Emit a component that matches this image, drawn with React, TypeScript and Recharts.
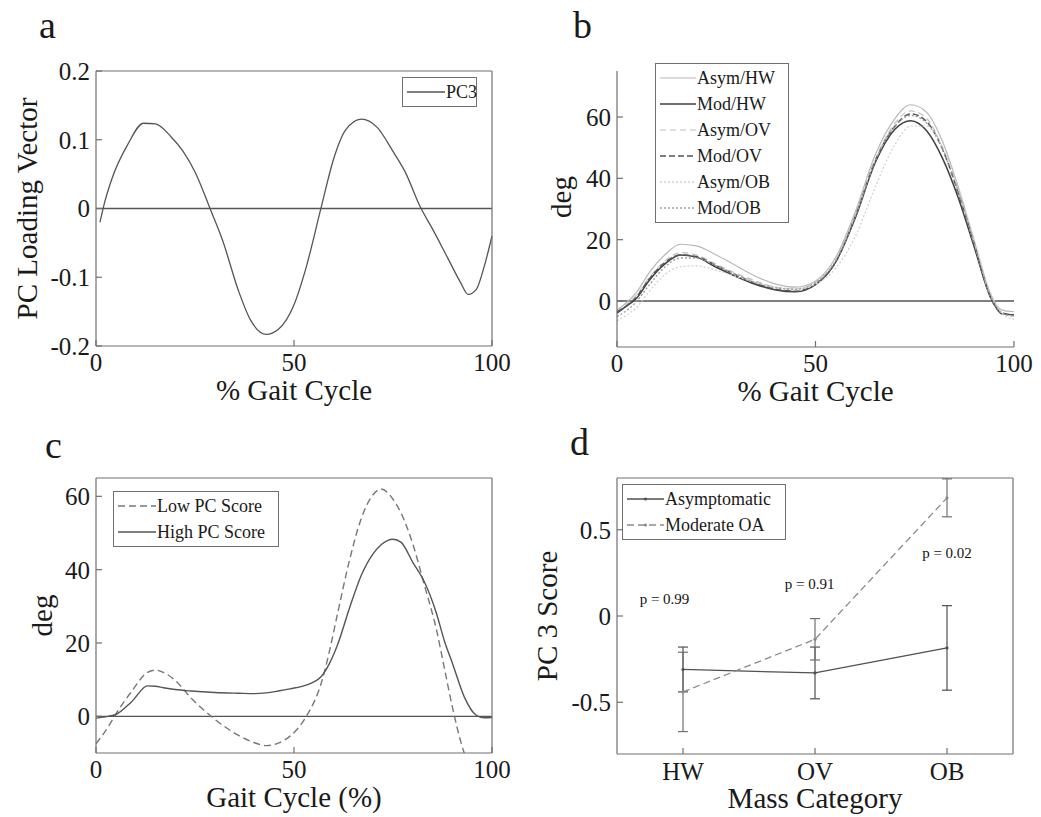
import React from "react";
import {
  LineChart,
  Line,
  XAxis,
  YAxis,
  ReferenceLine,
  ReferenceDot,
  Legend,
  ErrorBar,
} from "recharts";

const FONT = '"Liberation Serif", "Times New Roman", serif';
const INK = "#1a1a1a";
const AXIS = "#707070";

// panel a: PC3 loading vector
const PC3_X = [1, 2, 4, 8, 12, 15, 19, 22, 25, 29, 32, 36, 39, 43, 46, 50, 53, 57, 60, 63, 67, 71, 75, 78, 82, 85, 89, 92, 94, 96, 98, 100];
const PC3_Y = [-0.02, 0.005, 0.043, 0.093, 0.124, 0.123, 0.104, 0.083, 0.053, -0.003, -0.047, -0.12, -0.162, -0.183, -0.176, -0.14, -0.087, 0.005, 0.072, 0.114, 0.13, 0.118, 0.083, 0.054, 0.001, -0.03, -0.074, -0.107, -0.125, -0.118, -0.085, -0.04];

// panel b: group mean waveforms
const GAIT_X = [0, 2, 5, 8, 12, 16, 20, 25, 30, 35, 40, 45, 50, 55, 60, 65, 70, 74, 78, 82, 86, 90, 94, 97, 100];
const ASYM_HW = [-3, -1, 3, 9, 15, 18.5, 18, 15, 11.5, 8, 5.5, 4.5, 6.5, 14, 29, 47.5, 59.5, 64, 61.5, 52, 37, 19.5, 2.5, -3, -3.5];
const MOD_HW = [-4, -2, 1, 6.5, 12, 15, 14.3, 11, 8, 5.4, 3.6, 3, 5.3, 12.5, 27, 45, 56, 58.8, 55.5, 46.5, 33.5, 17.5, 1.5, -4.2, -4.5];
const ASYM_OV = [-3.5, -1.5, 2, 7.5, 13, 15.8, 15, 12, 9, 6.5, 4.5, 4, 6, 13, 28, 46, 58, 62, 59.5, 50, 36, 19, 2, -3.5, -5];
const MOD_OV = [-3.5, -2, 1.5, 7, 12.5, 15, 14.5, 11.5, 8.5, 5.8, 3.8, 3.2, 5.5, 12.5, 27.5, 45.5, 57, 61, 58.5, 49.5, 35, 18.5, 1.5, -4, -4.5];
const ASYM_OB = [-6.5, -5, -2, 3, 8.5, 11.2, 11.5, 10, 8, 6, 4.5, 4, 5.5, 10.5, 21, 37, 51, 57, 57, 50, 37, 20, 3, -4, -6];
const MOD_OB = [-5, -3.5, 0, 5, 11, 14, 14, 11.5, 8.5, 6, 4.3, 3.8, 6, 13, 27.5, 45.5, 57, 60.5, 58, 49.5, 35.5, 18.5, 2, -4, -5];

// panel c: reconstructed waveforms
const C_X = [0, 3, 5, 9, 13, 15, 17, 20, 24, 30, 36, 40, 43, 46, 49, 53, 57, 59, 61, 64, 67, 70, 72, 75, 77, 80, 83, 86, 88, 90, 93, 96, 98, 100];
const LOW_PC = [-7.5, -3, 0.6, 6.8, 12, 12.6, 12, 9.8, 5, -0.8, -5.2, -7.2, -8, -7.3, -5.4, -0.2, 9.5, 18, 28, 42.5, 54, 60.5, 62, 59.2, 55.5, 47, 35.5, 23.5, 13, 2.5, -10, -16, -19, -21];
const HIGH_PC = [-0.5, 0, 0.5, 4, 8.3, 8.2, 7.8, 7.3, 6.9, 6.5, 6.3, 6.2, 6.4, 6.9, 7.5, 8.5, 11, 14.5, 19.5, 29.5, 38.5, 44.4, 46.8, 48.3, 47.5, 42, 36.5, 28, 20.5, 14.5, 5.3, 0.3, -0.4, -0.3];

// panel d: PC3 scores by mass category
const MASS_CATS = ["HW", "OV", "OB"];
const ASYM_MEAN = [-0.31, -0.33, -0.185];
const ASYM_ERR = [0.13, 0.15, 0.245];
const MOD_MEAN = [-0.44, -0.135, 0.685];
const MOD_ERR = [0.23, 0.12, 0.11];
const P_VALUES = ["p = 0.99", "p = 0.91", "p = 0.02"];
const P_X = [0.86, 1.96, 3.0];
const P_Y = [0.1, 0.19, 0.37];

const pc3Data = PC3_X.map((x, i) => ({ x, pc3: PC3_Y[i] }));
const groupData = GAIT_X.map((x, i) => ({
  x,
  asymHW: ASYM_HW[i],
  modHW: MOD_HW[i],
  asymOV: ASYM_OV[i],
  modOV: MOD_OV[i],
  asymOB: ASYM_OB[i],
  modOB: MOD_OB[i],
}));
const reconData = C_X.map((x, i) => ({ x, low: LOW_PC[i], high: HIGH_PC[i] }));
const scoreData = MASS_CATS.map((c, i) => ({
  x: i + 1,
  asym: ASYM_MEAN[i],
  asymErr: ASYM_ERR[i],
  mod: MOD_MEAN[i],
  modErr: MOD_ERR[i],
}));

const B_SERIES = [
  { key: "asymHW", name: "Asym/HW", color: "#b8b8b8", width: 1.2, dash: undefined },
  { key: "modHW", name: "Mod/HW", color: "#404040", width: 1.5, dash: undefined },
  { key: "asymOV", name: "Asym/OV", color: "#c2c2c2", width: 1.2, dash: "6 4" },
  { key: "modOV", name: "Mod/OV", color: "#555555", width: 1.5, dash: "6 3" },
  { key: "asymOB", name: "Asym/OB", color: "#d2d2d2", width: 1.3, dash: "2 2" },
  { key: "modOB", name: "Mod/OB", color: "#a0a0a0", width: 1.4, dash: "2 2" },
];

const tickStyle = { fontSize: 25, fill: INK, fontFamily: FONT };
const axisLine = { stroke: AXIS, strokeWidth: 1.2 };
const tickLine = { stroke: AXIS, strokeWidth: 1.2 };
const labelStyle = { fontSize: 29, fill: INK, fontFamily: FONT };

type LegendItem = { name: string; color: string; width: number; dash?: string; dot?: boolean };

function LegendBox({ items, width, sample }: { items: LegendItem[]; width: number; sample: number }) {
  return (
    <div
      style={{
        width,
        boxSizing: "border-box",
        border: `1.2px solid ${AXIS}`,
        background: "#fff",
        padding: "1px 4px",
        fontFamily: FONT,
        color: INK,
      }}
    >
      {items.map((it) => (
        <div key={it.name} style={{ display: "flex", alignItems: "center", height: 26 }}>
          <svg width={sample} height={10} style={{ flex: "none" }}>
            <line
              x1={0}
              y1={5}
              x2={sample}
              y2={5}
              stroke={it.color}
              strokeWidth={it.width}
              strokeDasharray={it.dash}
            />
            {it.dot && <circle cx={sample / 2} cy={5} r={1.6} fill={it.color} />}
          </svg>
          <span style={{ fontSize: 18, marginLeft: 1, whiteSpace: "nowrap", fontFamily: FONT }}>{it.name}</span>
        </div>
      ))}
    </div>
  );
}

function PanelLetter({ text, left, top }: { text: string; left: number; top: number }) {
  return (
    <div
      style={{
        position: "absolute",
        left,
        top,
        fontSize: 38,
        lineHeight: 1,
        fontFamily: FONT,
        color: INK,
      }}
    >
      {text}
    </div>
  );
}

function PanelA() {
  return (
    <LineChart
      width={520}
      height={410}
      data={pc3Data}
      margin={{ top: 70, right: 27, bottom: 10, left: 16 }}
      style={{ fontFamily: FONT }}
    >
      <XAxis
        dataKey="x"
        type="number"
        domain={[0, 100]}
        ticks={[0, 50, 100]}
        height={54}
        tickSize={-6}
        tickMargin={13}
        tick={tickStyle}
        axisLine={axisLine}
        tickLine={tickLine}
        label={{ value: "% Gait Cycle", position: "insideBottom", offset: 0, ...labelStyle }}
      />
      <XAxis xAxisId="top" orientation="top" type="number" domain={[0, 100]} ticks={[0, 50, 100]} height={1} tick={false} tickSize={-6} axisLine={axisLine} tickLine={tickLine} />
      <YAxis
        type="number"
        domain={[-0.2, 0.2]}
        ticks={[-0.2, -0.1, 0, 0.1, 0.2]}
        width={80}
        tickSize={-6}
        tickMargin={12}
        tick={tickStyle}
        axisLine={axisLine}
        tickLine={tickLine}
        label={{ value: "PC  Loading Vector", angle: -90, position: "insideLeft", offset: 11, style: { textAnchor: "middle" }, ...labelStyle }}
      />
      <YAxis yAxisId="right" orientation="right" type="number" domain={[-0.2, 0.2]} ticks={[-0.2, -0.1, 0, 0.1, 0.2]} width={1} tick={false} tickSize={-6} axisLine={axisLine} tickLine={tickLine} />
      <ReferenceLine y={0} stroke="#555" strokeWidth={1.3} />
      <Line type="monotone" dataKey="pc3" stroke="#555" strokeWidth={1.3} dot={false} isAnimationActive={false} />
      <Legend
        layout="vertical"
        align="center"
        verticalAlign="middle"
        wrapperStyle={{ left: 402, top: 77, width: "auto" }}
        content={() => (
          <LegendBox width={75} sample={38} items={[{ name: "PC3", color: "#555", width: 1.3 }]} />
        )}
      />
    </LineChart>
  );
}

function PanelB() {
  return (
    <LineChart
      width={521}
      height={410}
      data={groupData}
      margin={{ top: 71, right: 27, bottom: 9, left: 17 }}
      style={{ fontFamily: FONT }}
    >
      <XAxis
        dataKey="x"
        type="number"
        domain={[0, 100]}
        ticks={[0, 50, 100]}
        height={54}
        tickSize={-6}
        tickMargin={13}
        tick={tickStyle}
        axisLine={axisLine}
        tickLine={tickLine}
        label={{ value: "% Gait Cycle", position: "insideBottom", offset: 0, ...labelStyle }}
      />
      <YAxis
        type="number"
        domain={[-15, 75]}
        ticks={[0, 20, 40, 60]}
        width={80}
        tickSize={-6}
        tickMargin={12}
        tick={tickStyle}
        axisLine={axisLine}
        tickLine={tickLine}
        label={{ value: "deg", angle: -90, position: "insideLeft", offset: 24, dy: -12, style: { textAnchor: "middle" }, ...labelStyle }}
      />
      <ReferenceLine y={0} stroke="#555" strokeWidth={1.3} />
      {B_SERIES.map((s) => (
        <Line
          key={s.key}
          type="monotone"
          dataKey={s.key}
          name={s.name}
          stroke={s.color}
          strokeWidth={s.width}
          strokeDasharray={s.dash}
          dot={false}
          isAnimationActive={false}
        />
      ))}
      <Legend
        layout="vertical"
        align="center"
        verticalAlign="middle"
        wrapperStyle={{ left: 135, top: 63, width: "auto" }}
        content={() => <LegendBox width={134} sample={36} items={B_SERIES} />}
      />
    </LineChart>
  );
}

function PanelC() {
  return (
    <LineChart
      width={520}
      height={407}
      data={reconData}
      margin={{ top: 67, right: 27, bottom: 10, left: 16 }}
      style={{ fontFamily: FONT }}
    >
      <XAxis
        dataKey="x"
        type="number"
        domain={[0, 100]}
        ticks={[0, 50, 100]}
        height={54}
        tickSize={-6}
        tickMargin={13}
        tick={tickStyle}
        axisLine={axisLine}
        tickLine={tickLine}
        label={{ value: "Gait Cycle (%)", position: "insideBottom", offset: 0, ...labelStyle }}
      />
      <XAxis xAxisId="top" orientation="top" type="number" domain={[0, 100]} ticks={[0, 50, 100]} height={1} tick={false} tickSize={-6} axisLine={axisLine} tickLine={tickLine} />
      <YAxis
        type="number"
        domain={[-10, 65]}
        ticks={[0, 20, 40, 60]}
        allowDataOverflow
        width={80}
        tickSize={-6}
        tickMargin={12}
        tick={tickStyle}
        axisLine={axisLine}
        tickLine={tickLine}
        label={{ value: "deg", angle: -90, position: "insideLeft", offset: 26, style: { textAnchor: "middle" }, ...labelStyle }}
      />
      <YAxis yAxisId="right" orientation="right" type="number" domain={[-10, 65]} ticks={[0, 20, 40, 60]} width={1} tick={false} tickSize={-6} axisLine={axisLine} tickLine={tickLine} />
      <ReferenceLine y={0} stroke="#555" strokeWidth={1.3} />
      <Line type="monotone" dataKey="low" name="Low PC Score" stroke="#777" strokeWidth={1.4} strokeDasharray="7 4" dot={false} isAnimationActive={false} />
      <Line type="monotone" dataKey="high" name="High PC Score" stroke="#555" strokeWidth={1.4} dot={false} isAnimationActive={false} />
      <Legend
        layout="vertical"
        align="center"
        verticalAlign="middle"
        wrapperStyle={{ left: 113, top: 81, width: "auto" }}
        content={() => (
          <LegendBox
            width={166}
            sample={38}
            items={[
              { name: "Low PC Score", color: "#777", width: 1.4, dash: "7 4" },
              { name: "High PC Score", color: "#555", width: 1.4 },
            ]}
          />
        )}
      />
    </LineChart>
  );
}

function PanelD() {
  return (
    <LineChart
      width={521}
      height={407}
      data={scoreData}
      margin={{ top: 67, right: 27, bottom: 9, left: 17 }}
      style={{ fontFamily: FONT }}
    >
      <XAxis
        dataKey="x"
        type="number"
        domain={[0.5, 3.5]}
        ticks={[1, 2, 3]}
        tickFormatter={(v: number) => MASS_CATS[v - 1]}
        height={54}
        tickSize={-6}
        tickMargin={14}
        tick={tickStyle}
        axisLine={axisLine}
        tickLine={tickLine}
        label={{ value: "Mass Category", position: "insideBottom", offset: 0, ...labelStyle }}
      />
      <XAxis xAxisId="top" orientation="top" type="number" domain={[0.5, 3.5]} ticks={[1, 2, 3]} height={1} tick={false} tickSize={-6} axisLine={axisLine} tickLine={tickLine} />
      <YAxis
        type="number"
        domain={[-0.8, 0.8]}
        ticks={[-0.5, 0, 0.5]}
        allowDataOverflow
        width={80}
        tickSize={-6}
        tickMargin={12}
        tick={tickStyle}
        axisLine={axisLine}
        tickLine={tickLine}
        label={{ value: "PC 3 Score", angle: -90, position: "insideLeft", offset: 10, style: { textAnchor: "middle" }, ...labelStyle }}
      />
      <YAxis yAxisId="right" orientation="right" type="number" domain={[-0.8, 0.8]} ticks={[-0.5, 0, 0.5]} width={1} tick={false} tickSize={-6} axisLine={axisLine} tickLine={tickLine} />
      <Line
        type="linear"
        dataKey="asym"
        name="Asymptomatic"
        stroke="#505050"
        strokeWidth={1.3}
        dot={{ r: 1.6, fill: "#505050", stroke: "none" }}
        isAnimationActive={false}
      >
        <ErrorBar dataKey="asymErr" width={5} stroke="#505050" strokeWidth={1.2} direction="y" />
      </Line>
      <Line
        type="linear"
        dataKey="mod"
        name="Moderate OA"
        stroke="#8a8a8a"
        strokeWidth={1.3}
        strokeDasharray="7 4"
        dot={{ r: 1.6, fill: "#8a8a8a", stroke: "none" }}
        isAnimationActive={false}
      >
        <ErrorBar dataKey="modErr" width={5} stroke="#707070" strokeWidth={1.2} direction="y" />
      </Line>
      {P_VALUES.map((p, i) => (
        <ReferenceDot
          key={p}
          x={P_X[i]}
          y={P_Y[i]}
          r={1}
          fill="none"
          stroke="none"
          label={{ value: p, position: "center", fontSize: 15, fill: "#111", fontFamily: FONT }}
        />
      ))}
      <Legend
        layout="vertical"
        align="center"
        verticalAlign="middle"
        wrapperStyle={{ left: 102, top: 74, width: "auto" }}
        content={() => (
          <LegendBox
            width={164}
            sample={37}
            items={[
              { name: "Asymptomatic", color: "#505050", width: 1.3, dot: true },
              { name: "Moderate OA", color: "#8a8a8a", width: 1.3, dash: "7 4", dot: true },
            ]}
          />
        )}
      />
    </LineChart>
  );
}

export default function App() {
  return (
    <div
      style={{
        position: "absolute",
        left: 0,
        top: 0,
        width: 1041,
        height: 817,
        background: "#fff",
        fontFamily: FONT,
        overflow: "hidden",
      }}
    >
      <div style={{ position: "absolute", left: 0, top: 0 }}>
        <PanelA />
      </div>
      <div style={{ position: "absolute", left: 520, top: 0 }}>
        <PanelB />
      </div>
      <div style={{ position: "absolute", left: 0, top: 410 }}>
        <PanelC />
      </div>
      <div style={{ position: "absolute", left: 520, top: 410 }}>
        <PanelD />
      </div>
      <PanelLetter text="a" left={39} top={6} />
      <PanelLetter text="b" left={573} top={6} />
      <PanelLetter text="c" left={45} top={426} />
      <PanelLetter text="d" left={570} top={423} />
    </div>
  );
}
